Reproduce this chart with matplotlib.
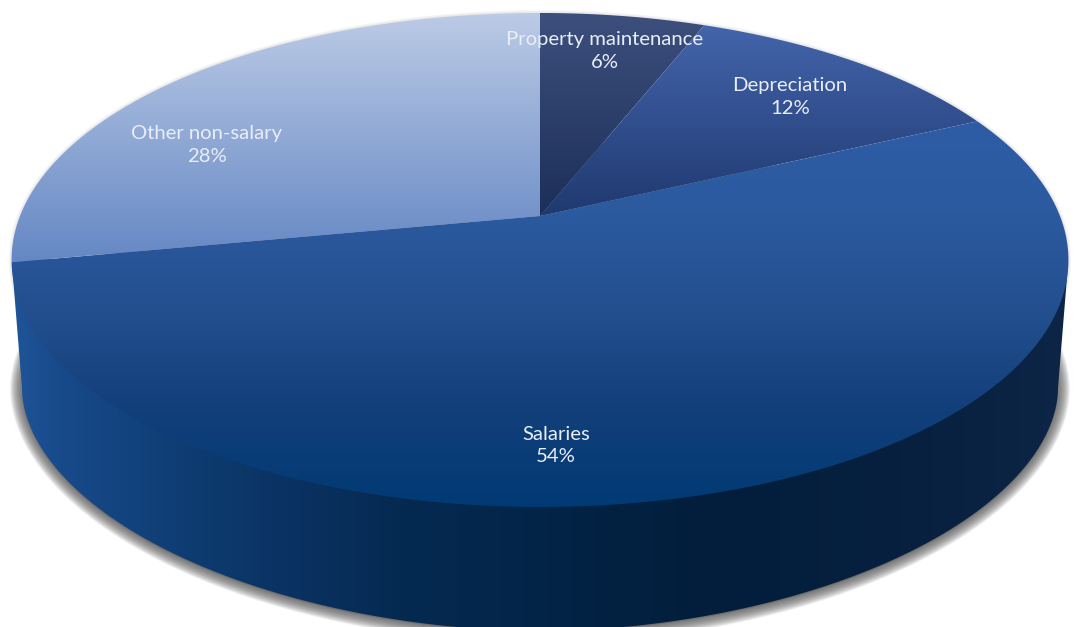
import numpy as np
import matplotlib
matplotlib.use("Agg")
import matplotlib.pyplot as plt
from matplotlib.colors import LinearSegmentedColormap
from matplotlib.patches import Polygon

labels = ["Property maintenance", "Depreciation", "Salaries", "Other non-salary"]
shares = [6, 12, 54, 28]
text_pos = [(605, 40), (790, 85), (556, 434), (207, 134)]

# vertical gradient for each slice: colours from top to bottom, top y, bottom y
face_cols = [(["#3d4f7d", "#1c2f58"], 13, 216),
             (["#4566ad", "#1f3970"], 20, 216),
             (["#2e5da6", "#2c5a9f", "#234f8f", "#123f7a", "#003a74"], 115, 510),
             (["#bccbe6", "#6487c4"], 13, 262)]
# wall colours from left to right
wall_x = [12, 60, 200, 300, 400, 500, 700, 900, 1068]
wall_cols = ["#1f5499", "#184a8a", "#0d3b70", "#0a3160", "#052a52", "#03264a", "#021e3c", "#07203f", "#0d2546"]


def rim(frac):
    # perspective circle, frac runs clockwise from 12 o'clock
    t = 2 * np.pi * np.asarray(frac)
    w = 1 + 0.178 * np.cos(t)
    return 540 + 520 * np.sin(t) / w, (216 - 200.7 * np.cos(t)) / w


def lower_rim(t, dy=0.0):
    # bottom edge of the wall, slightly squarer than an ellipse
    p = 1.9
    x = 540 + 518 * np.sign(np.cos(t)) * np.abs(np.cos(t)) ** (2 / p)
    y = 388 + dy + 243 * np.sign(np.sin(t)) * np.abs(np.sin(t)) ** (2 / p)
    return x, y


def fill(ax, pts, cmap, extent, vertical=True):
    grad = np.linspace(0, 1, 256)
    grad = grad[:, None] if vertical else grad[None, :]
    im = ax.imshow(grad, cmap=cmap, extent=extent, aspect="auto", origin="upper", zorder=3)
    patch = Polygon(pts, closed=True, transform=ax.transData, fc="none", ec="none")
    ax.add_patch(patch)
    im.set_clip_path(patch)


fig = plt.figure(figsize=(10.78, 6.27), dpi=100)
ax = fig.add_axes([0, 0, 1, 1])
ax.axis("off")

# soft shadow under the pie
tt = np.linspace(0, 2 * np.pi, 500)
sx, sy = lower_rim(tt, 1)
for lw in np.arange(17, 0.5, -1.5):
    ax.add_patch(Polygon(np.c_[sx, sy], closed=True, fc="#777777", ec="#555555", lw=lw, alpha=0.11, zorder=1, joinstyle="round"))
tx, ty = rim(np.linspace(0, 1, 400))
for lw in [4, 2.5, 1.2]:
    ax.add_patch(Polygon(np.c_[tx, ty], closed=True, fc="none", ec="#aaaaaa", lw=lw, alpha=0.1, zorder=1))

# wall
lx, ly = lower_rim(np.linspace(np.pi, 0, 300))
rx, ry = rim(np.array([0.25 + 0.028, 0.75 - 0.028]))
wall = np.r_[np.c_[rx[1], ry[1]], np.c_[lx, ly], np.c_[rx[0], ry[0]]]
wall_stops = [(x - wall_x[0]) / (wall_x[-1] - wall_x[0]) for x in wall_x]
wall_cmap = LinearSegmentedColormap.from_list("wall", list(zip(wall_stops, wall_cols)))
fill(ax, wall, wall_cmap, (12, 1068, 640, 250), vertical=False)

# top face, one polygon per slice
edges = np.cumsum([0] + shares) / sum(shares)
cx, cy = 540, 216
for i, share in enumerate(shares):
    fr = np.linspace(edges[i], edges[i + 1], 200)
    x, y = rim(fr)
    pts = np.r_[[[cx, cy]], np.c_[x, y]]
    cols, y0, y1 = face_cols[i]
    cmap = LinearSegmentedColormap.from_list(f"s{i}", cols)
    fill(ax, pts, cmap, (0, 1078, y1, y0))

for name, share, (px, py) in zip(labels, shares, text_pos):
    ax.text(px, py, name, color="#e9eef6", fontsize=14.6, family="Lato", ha="center", va="center", zorder=5)
    ax.text(px, py + 23, f"{share}%", color="#e9eef6", fontsize=14.6, family="Lato", ha="center", va="center", zorder=5)

ax.set_xlim(0, 1078)
ax.set_ylim(627, 0)
fig.savefig("out.png", dpi=100, facecolor="white")
